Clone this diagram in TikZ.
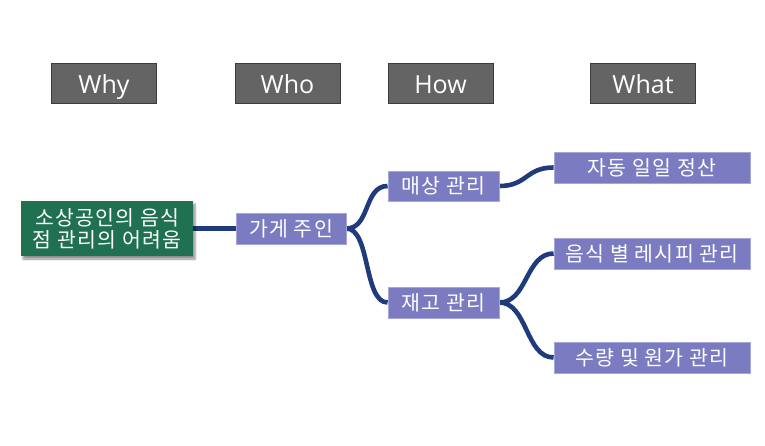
\documentclass[tikz,border=0pt]{standalone}
\usepackage{fontspec}
\setmainfont{Open Sans}
\newfontfamily\kr[LetterSpace=6]{Noto Sans CJK KR}
\usetikzlibrary{shadows.blur,backgrounds}
\definecolor{hdrgray}{HTML}{646464}
\definecolor{hdrborder}{HTML}{3C3C3C}
\definecolor{rootgreen}{HTML}{1F7150}
\definecolor{boxpurple}{HTML}{7B7BC2}
\definecolor{boxborder}{HTML}{A6A6DA}
\definecolor{linknavy}{HTML}{203B7C}
\tikzset{
  hdrbox/.style={draw=hdrborder, line width=0.8pt, fill=hdrgray, text=white,
    minimum width=105pt, minimum height=40pt, inner sep=0pt,
    text height=20pt, text depth=0pt,
    font=\fontsize{25}{29}\selectfont},
  rootbox/.style={fill=rootgreen, text=white, minimum width=172pt, minimum height=55pt,
    inner sep=0pt, align=center, font=\kr\fontsize{20.5}{22}\selectfont,
    blur shadow={shadow xshift=2pt, shadow yshift=-3pt, shadow blur steps=6, shadow opacity=45}},
  leafbox/.style={draw=boxborder, line width=0.8pt, fill=boxpurple, text=white,
    minimum height=31pt, inner sep=0pt, font=\kr\fontsize{20.5}{22}\selectfont},
  link/.style={draw=linknavy, line width=4.6pt}
}
\begin{document}
\begin{tikzpicture}[x=1pt,y=-1pt]
\useasboundingbox (0,0) rectangle (765,445);
\node[hdrbox] (why) at (104,83) {Why};
\node[hdrbox] (who) at (287.5,83) {Who};
\node[hdrbox] (how) at (440.5,83) {How};
\node[hdrbox] (what) at (643,83) {What};

\node[rootbox] (root) at (107,228.5) {소상공인의 음식\\점 관리의 어려움};
\node[leafbox, minimum width=110pt] (owner) at (291,228.5) {가게 주인};
\node[leafbox, minimum width=111pt, minimum height=30pt] (sales) at (443.5,186) {매상 관리};
\node[leafbox, minimum width=111pt] (stock) at (443.5,302.5) {재고 관리};
\node[leafbox, minimum width=196pt] (auto) at (652,167.5) {자동 일일 정산};
\node[leafbox, minimum width=196pt] (recipe) at (652,253.5) {음식 별 레시피 관리};
\node[leafbox, minimum width=196pt] (qty) at (652,357.5) {수량 및 원가 관리};

\begin{scope}[on background layer]
\draw[link] (root.east) -- (owner.west);
\draw[link] (owner.east) .. controls +(24,0) and +(-24,0) .. (sales.west);
\draw[link] (owner.east) .. controls +(24,0) and +(-24,0) .. (stock.west);
\draw[link] (sales.east) .. controls +(28,0) and +(-28,0) .. (auto.west);
\draw[link] (stock.east) .. controls +(28,0) and +(-28,0) .. (recipe.west);
\draw[link] (stock.east) .. controls +(28,0) and +(-28,0) .. (qty.west);
\end{scope}
\end{tikzpicture}
\end{document}
